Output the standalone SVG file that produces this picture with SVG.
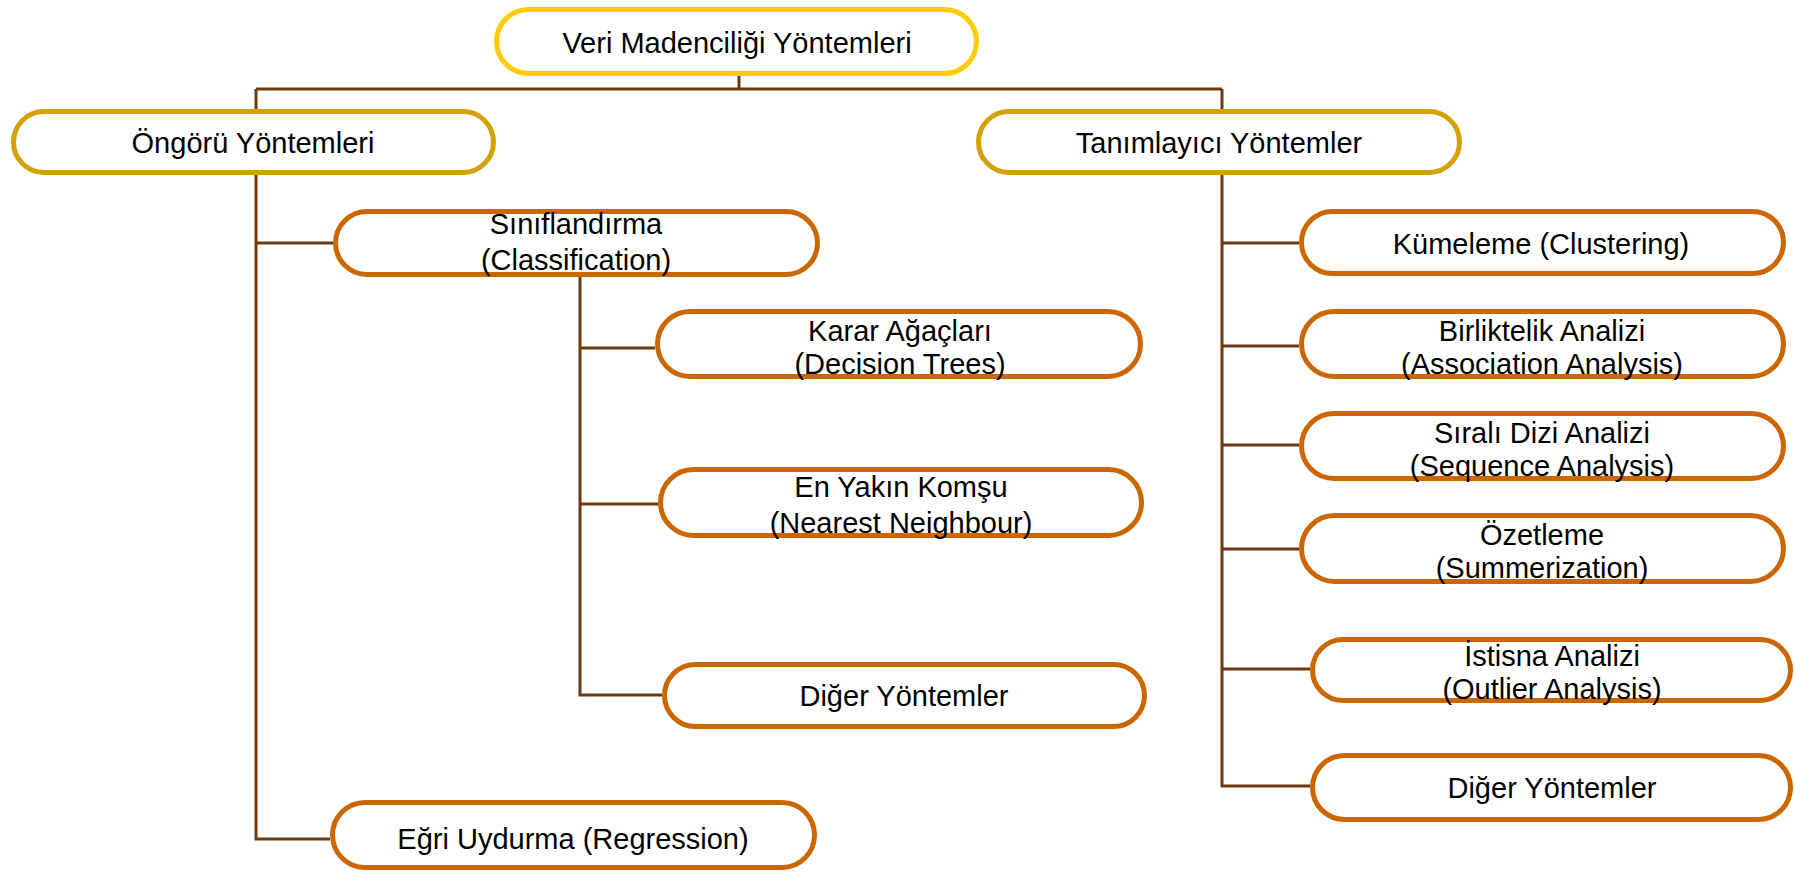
<svg xmlns="http://www.w3.org/2000/svg" width="1795" height="872" viewBox="0 0 1795 872">
<style>
.n rect{fill:#fff;stroke-width:5}
.l0 rect{stroke:#FFCC00}
.l1 rect{stroke:#D4A106}
.l2 rect{stroke:#CC6600}
text{font-family:"Liberation Sans",Arial,sans-serif;font-size:29px;fill:#000;text-anchor:middle}
#connectors path{fill:none;stroke:#6B3A0E;stroke-width:3}
</style>
<rect width="1795" height="872" fill="#fff"/>
<g id="connectors">
<path d="M739 76V89M256 89H1222M256 89V109M1222 89V109"/>
<path d="M256 175V839H330M256 243H333"/>
<path d="M580 277V695H662M580 348H655M580 504H658"/>
<path d="M1222 175V786H1310M1222 243H1299M1222 346H1299M1222 445H1299M1222 549H1299M1222 669H1310"/>
</g>
<g id="n-root" class="n l0"><rect x="496.5" y="9.5" width="480" height="64" rx="32"/><text x="737" y="53">Veri Madenciliği Yöntemleri</text></g>
<g id="n-ongoru" class="n l1"><rect x="13.5" y="111.5" width="480" height="61" rx="30.5"/><text x="253" y="153">Öngörü Yöntemleri</text></g>
<g id="n-tanimlayici" class="n l1"><rect x="978.5" y="111.5" width="481" height="61" rx="30.5"/><text x="1219" y="153">Tanımlayıcı Yöntemler</text></g>
<g id="n-siniflandirma" class="n l2"><rect x="335.5" y="211.5" width="482" height="63" rx="31.5"/><text x="576" y="234">Sınıflandırma</text><text x="576" y="270">(Classification)</text></g>
<g id="n-karar" class="n l2"><rect x="657.5" y="311.5" width="483" height="65" rx="32.5"/><text x="900" y="341">Karar Ağaçları</text><text x="900" y="374">(Decision Trees)</text></g>
<g id="n-enyakin" class="n l2"><rect x="660.5" y="469.5" width="481" height="66" rx="33"/><text x="901" y="497">En Yakın Komşu</text><text x="901" y="533">(Nearest Neighbour)</text></g>
<g id="n-diger1" class="n l2"><rect x="664.5" y="664.5" width="480" height="62" rx="31"/><text x="904" y="706">Diğer Yöntemler</text></g>
<g id="n-egri" class="n l2"><rect x="332.5" y="802.5" width="482" height="65" rx="32.5"/><text x="573" y="849">Eğri Uydurma (Regression)</text></g>
<g id="n-kumeleme" class="n l2"><rect x="1301.5" y="211.5" width="482" height="62" rx="31"/><text x="1541" y="254">Kümeleme (Clustering)</text></g>
<g id="n-birliktelik" class="n l2"><rect x="1301.5" y="311.5" width="482" height="65" rx="32.5"/><text x="1542" y="341">Birliktelik Analizi</text><text x="1542" y="374">(Association Analysis)</text></g>
<g id="n-sirali" class="n l2"><rect x="1301.5" y="413.5" width="482" height="65" rx="32.5"/><text x="1542" y="443">Sıralı Dizi Analizi</text><text x="1542" y="476">(Sequence Analysis)</text></g>
<g id="n-ozetleme" class="n l2"><rect x="1301.5" y="515.5" width="482" height="66" rx="33"/><text x="1542" y="545">Özetleme</text><text x="1542" y="578">(Summerization)</text></g>
<g id="n-istisna" class="n l2"><rect x="1312.5" y="639.5" width="478" height="61" rx="30.5"/><text x="1552" y="666">İstisna Analizi</text><text x="1552" y="699">(Outlier Analysis)</text></g>
<g id="n-diger2" class="n l2"><rect x="1312.5" y="755.5" width="478" height="64" rx="32"/><text x="1552" y="798">Diğer Yöntemler</text></g>
</svg>
